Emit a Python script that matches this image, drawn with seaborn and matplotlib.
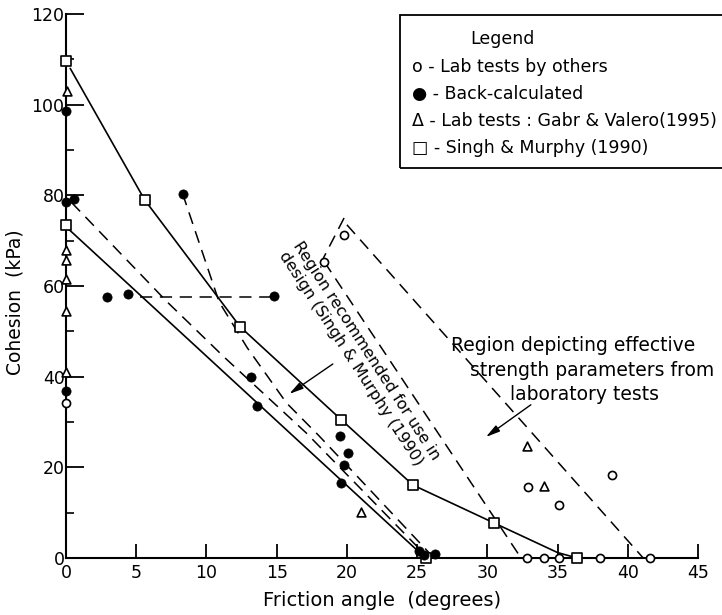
import numpy as np
import pandas as pd
import matplotlib
matplotlib.use("Agg")
import matplotlib.pyplot as plt
import seaborn as sns
from matplotlib.patches import Rectangle

sns.set_theme(style="white")
plt.rcParams["font.family"] = ["DejaVu Sans"]
plt.rcParams["text.color"] = "black"
plt.rcParams["axes.labelcolor"] = "black"
plt.rcParams["xtick.color"] = "black"
plt.rcParams["ytick.color"] = "black"

# ---------------- data ----------------
# Lab tests by others (open circles)
others_x = [0.0, 19.8, 18.4, 32.9, 35.1, 38.9, 32.8, 34.0, 35.1, 38.0, 41.6]
others_y = [34.3, 71.3, 65.3, 15.7, 11.7, 18.3, 0.0, 0.0, 0.0, 0.0, 0.0]
# Back-calculated (filled circles)
back_x = [0.0, 0.0, 0.6, 0.0, 2.9, 4.4, 14.8, 8.3, 13.2, 13.6, 19.5, 20.1, 19.8, 19.6, 25.1, 25.5, 26.3]
back_y = [98.5, 78.5, 79.3, 36.9, 57.6, 58.3, 57.8, 80.4, 40.0, 33.5, 26.9, 23.2, 20.5, 16.6, 1.5, 0.6, 0.9]
# Lab tests: Gabr & Valero (1995) (open triangles)
gabr_x = [0.1, 0.0, 0.0, 0.0, 0.0, 0.0, 21.0, 32.8, 34.0]
gabr_y = [103.0, 68.0, 65.8, 61.5, 54.5, 41.0, 10.2, 24.7, 15.9]
# Singh & Murphy (1990) (open squares)
sm_x = [0.0, 5.6, 12.4, 19.6, 24.7, 30.5, 36.4, 0.0, 25.6]
sm_y = [109.7, 79.0, 51.0, 30.5, 16.1, 7.7, 0.0, 73.5, 0.0]

# solid envelope curves
upper_x = [0.3, 5.6, 12.4, 19.6, 24.7, 30.5, 35.0, 36.4]
upper_y = [108.0, 79.0, 51.0, 30.5, 16.1, 7.7, 1.2, 0.0]
lower_x = [0.2, 25.6]
lower_y = [72.5, 0.0]
# dashed boundaries of the design region
design1_x = [0.4, 7.2, 11.3, 17.1, 25.8]
design1_y = [78.4, 56.5, 44.2, 27.6, 0.0]
design2_x = [8.3, 10.9, 12.9, 15.7, 18.0, 21.5, 26.2]
design2_y = [80.4, 56.5, 46.4, 34.2, 27.0, 15.5, 0.0]
horiz_x = [5.3, 14.6]
horiz_y = [57.6, 57.6]
# dashed boundaries of the laboratory region
labL_x = [18.4, 32.4]
labL_y = [65.3, 0.0]
labR_x = [20.0, 41.1]
labR_y = [73.5, 0.0]
labT_x = [19.8, 18.3]
labT_y = [75.0, 66.0]

x_ticks = [0, 5, 10, 15, 20, 25, 30, 35, 40, 45]
y_ticks = [0, 20, 40, 60, 80, 100, 120]
y_minor = [10, 30, 50, 70, 90, 110]

legend_title = "Legend"
legend_items = ["o - Lab tests by others",
                "\u25cf - Back-calculated",
                "\u0394 - Lab tests : Gabr & Valero(1995)",
                "\u25a1 - Singh & Murphy (1990)"]

# ---------------- figure ----------------
W, H = 722, 615
fig = plt.figure(figsize=(W / 100, H / 100), dpi=100)
ax = fig.add_axes([66 / W, 1 - 558 / H, (698 - 66) / W, (558 - 14) / H])


def px(x, y):
    return (x / W, 1 - y / H)


solid = dict(color="black", lw=1.2)
dash = dict(color="black", lw=1.1, linestyle=(0, (8, 5)))


def line(xs, ys, **kw):
    sns.lineplot(x=xs, y=ys, sort=False, estimator=None, ax=ax, **kw)


line(upper_x, upper_y, **solid)
line(lower_x, lower_y, **solid)
line(design1_x, design1_y, **dash)
line(design2_x, design2_y, **dash)
line(horiz_x, horiz_y, **dash)
line(labL_x, labL_y, **dash)
line(labR_x, labR_y, **dash)
line(labT_x, labT_y, **dash)

sc = dict(ax=ax, clip_on=False, zorder=5, legend=False)
sns.scatterplot(x=others_x, y=others_y, marker="o", s=34, facecolor="white",
                edgecolor="black", linewidth=1.2, **sc)
sns.scatterplot(x=gabr_x, y=gabr_y, marker="^", s=40, facecolor="white",
                edgecolor="black", linewidth=1.2, **sc)
sns.scatterplot(x=sm_x, y=sm_y, marker="s", s=50, facecolor="white",
                edgecolor="black", linewidth=1.2, **sc)
sns.scatterplot(x=back_x, y=back_y, marker="o", s=44, color="black",
                edgecolor="black", linewidth=0.5, **sc)

ax.set_xlim(0, 45)
ax.set_ylim(0, 120)
ax.set_xticks(x_ticks)
ax.set_yticks(y_ticks)
ax.set_yticks(y_minor, minor=True)
ax.tick_params(axis="y", which="major", direction="in", length=13, width=1.3,
               labelsize=12.5, pad=1, left=True)
ax.tick_params(axis="y", which="minor", direction="in", length=6, width=1.2, left=True)
ax.tick_params(axis="x", which="major", direction="in", length=10, width=1.3,
               labelsize=12.5, pad=4, bottom=True)
for s in ["top", "right"]:
    ax.spines[s].set_visible(False)
for s in ["left", "bottom"]:
    ax.spines[s].set_linewidth(1.5)
    ax.spines[s].set_color("black")
ax.set_xlabel("Friction angle  (degrees)", fontsize=14, labelpad=7)
ax.set_ylabel("Cohesion  (kPa)", fontsize=13.5)
ax.yaxis.set_label_coords(-42 / (698 - 66), 0.47)

# annotations
ax.text(20.9, 44.6, "Region recommended for use in\ndesign (Singh & Murphy (1990)",
        rotation=-57, rotation_mode="anchor", ha="center", va="center",
        multialignment="left", fontsize=11.5, linespacing=1.15)
ax.annotate("", xy=(15.9, 36.2), xytext=(19.0, 42.8),
            arrowprops=dict(arrowstyle="-|>,head_length=0.7,head_width=0.18",
                            color="black", lw=1.0, shrinkA=0, shrinkB=0))
fig.text(*px(573, 345), "Region depicting effective", ha="center", va="center", fontsize=13.5)
fig.text(*px(592, 370), "strength parameters from", ha="center", va="center", fontsize=13.5)
fig.text(*px(585, 395), "laboratory tests", ha="center", va="center", fontsize=13.5)
ax.annotate("", xy=(29.9, 26.7), xytext=(33.1, 33.8),
            arrowprops=dict(arrowstyle="-|>,head_length=0.7,head_width=0.18",
                            color="black", lw=1.0, shrinkA=0, shrinkB=0))

# legend box
fig.add_artist(Rectangle(px(400, 168), 340 / W, (168 - 15) / H,
                         transform=fig.transFigure, fill=False, lw=1.3,
                         edgecolor="black"))
fig.text(*px(470, 39), legend_title, ha="left", va="center", fontsize=12.5)
for i, item in enumerate(legend_items):
    fig.text(*px(412, 67 + i * 27), item, ha="left", va="center", fontsize=12.5)

fig.savefig("out.png", dpi=100)
